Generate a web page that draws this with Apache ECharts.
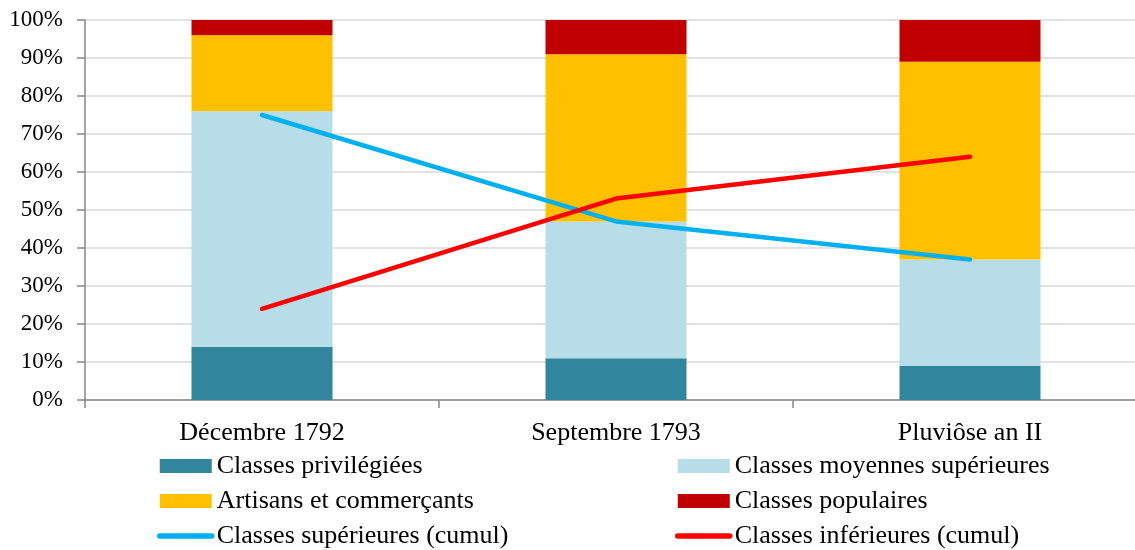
<!DOCTYPE html>
<html>
<head>
<meta charset="utf-8">
<script src="https://cdn.jsdelivr.net/npm/echarts@6/dist/echarts.min.js"></script>
<style>
  html, body { margin: 0; padding: 0; background: #fff; }
  #chart { width: 1135px; height: 550px; }
</style>
</head>
<body>
<div id="chart"></div>
<script>
// Périodes
const categories = ['Décembre 1792', 'Septembre 1793', 'Pluviôse an II'];

// Parts (%) de chaque groupe social
const privilegiees = [14, 11, 9];
const moyennesSup = [62, 36, 28];
const artisans = [20, 44, 52];
const populaires = [4, 9, 11];

// Cumuls (%)
const superieuresCumul = [75, 47, 37];
const inferieuresCumul = [24, 53, 64];

const FONT = '"Liberation Serif", "Times New Roman", serif';

const chart = echarts.init(document.getElementById('chart'), null, { renderer: 'canvas' });

function bar(name, data, color) {
  return {
    name, type: 'bar', stack: 'total', data,
    barWidth: 141,
    itemStyle: { color },
    emphasis: { disabled: true }
  };
}
function line(name, data, color) {
  return {
    name, type: 'line', data,
    symbol: 'none',
    lineStyle: { color, width: 4.5, cap: 'round', join: 'round' },
    itemStyle: { color },
    emphasis: { disabled: true },
    z: 5
  };
}
// Legend entry for a cumulative line: plain thick stroke, no marker dot
function lineEntry(name, color) {
  return {
    name,
    itemStyle: { opacity: 0 },
    lineStyle: { color, width: 5.5, cap: 'round' }
  };
}

const legendCommon = {
  orient: 'vertical',
  padding: 0,
  itemWidth: 52,
  itemHeight: 14,
  itemGap: 9,
  textStyle: { fontFamily: FONT, fontSize: 26, lineHeight: 26, color: '#000' },
  selectedMode: false
};

chart.setOption({
  animation: false,
  grid: { left: 85, top: 20, width: 1062, height: 380, outerBoundsMode: 'none' },
  legend: [
    Object.assign({ left: 157, top: 453,
      data: [
        { name: 'Classes privilégiées', icon: 'rect' },
        { name: 'Artisans et commerçants', icon: 'rect' },
        lineEntry('Classes supérieures (cumul)', '#00B0F0')
      ] }, legendCommon),
    Object.assign({ left: 675, top: 453,
      data: [
        { name: 'Classes moyennes supérieures', icon: 'rect' },
        { name: 'Classes populaires', icon: 'rect' },
        lineEntry('Classes inférieures (cumul)', '#FF0000')
      ] }, legendCommon)
  ],
  xAxis: {
    type: 'category',
    data: categories,
    boundaryGap: true,
    axisLine: { lineStyle: { color: '#868686', width: 1.5 } },
    axisTick: { show: true, length: 8, lineStyle: { color: '#868686', width: 1.5 } },
    axisLabel: { fontFamily: FONT, fontSize: 26, color: '#000', margin: 20 }
  },
  yAxis: {
    type: 'value',
    min: 0, max: 100, interval: 10,
    axisLine: { show: true, lineStyle: { color: '#868686', width: 1.5 } },
    axisTick: { show: true, length: 8, lineStyle: { color: '#868686', width: 1.5 } },
    axisLabel: { formatter: '{value}%', fontFamily: FONT, fontSize: 23, color: '#000', margin: 22 },
    splitLine: { lineStyle: { color: '#D9D9D9', width: 1.5 } }
  },
  series: [
    bar('Classes privilégiées', privilegiees, '#31859C'),
    bar('Classes moyennes supérieures', moyennesSup, '#B7DEE8'),
    bar('Artisans et commerçants', artisans, '#FFC000'),
    bar('Classes populaires', populaires, '#C00000'),
    line('Classes supérieures (cumul)', superieuresCumul, '#00B0F0'),
    line('Classes inférieures (cumul)', inferieuresCumul, '#FF0000')
  ]
});
</script>
</body>
</html>
